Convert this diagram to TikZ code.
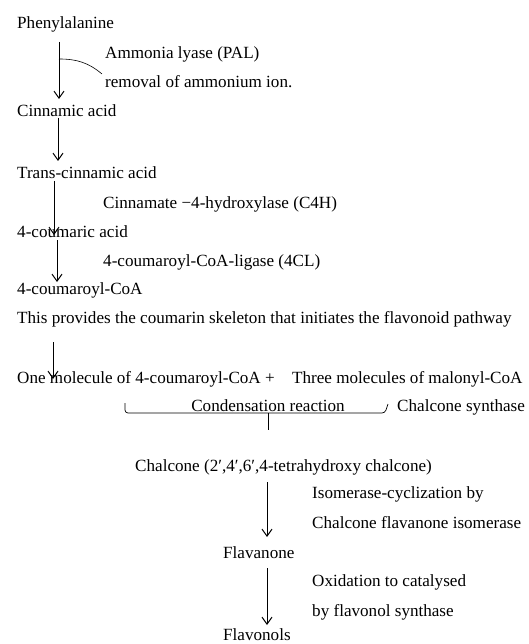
\documentclass[tikz,border=0pt]{standalone}
\usepackage{fontspec}
\setmainfont{Liberation Serif}
\usetikzlibrary{positioning,arrows.meta}

\begin{document}
\begin{tikzpicture}
[x=1pt,y=1pt,>={Straight Barb[length=7pt,width=10pt]},
lbl/.style={inner sep=0pt, text height=14.5pt, text depth=2pt, font=\fontsize{17.1}{20}\selectfont},
flow/.style={->, line width=1pt},
bracket/.style={line width=0.7pt, rounded corners=3pt}]
\useasboundingbox (0,0) rectangle (529,-644);

\node[lbl, anchor=west] (phe) at (17,-22) {Phenylalanine};
\node[lbl, below right=30pt and 88pt of phe.west, anchor=west] (pal) {Ammonia lyase (PAL)};
\node[lbl, below=29pt of pal.west, anchor=west] (rem) {removal of ammonium ion.};
\node[lbl, below=88pt of phe.west, anchor=west] (cin) {Cinnamic acid};
\node[lbl, below=62pt of cin.west, anchor=west] (trans) {Trans-cinnamic acid};
\node[lbl, below right=30pt and 86pt of trans.west, anchor=west] (c4h) {Cinnamate −4-hydroxylase (C4H)};
\node[lbl, below=59pt of trans.west, anchor=west] (coum) {4-coumaric acid};
\node[lbl, below right=29pt and 86pt of coum.west, anchor=west] (cl4) {4-coumaroyl-CoA-ligase (4CL)};
\node[lbl, below=57pt of coum.west, anchor=west] (coa) {4-coumaroyl-CoA};
\node[lbl, below=29pt of coa.west, anchor=west] (prov) {This provides the coumarin skeleton that initiates the flavonoid pathway};
\node[lbl, below=60pt of prov.west, anchor=west] (one) {One molecule of 4-coumaroyl-CoA +};
\node[lbl, right=275pt of one.west, anchor=west] (three) {Three molecules of malonyl-CoA};
\node[lbl, below right=28pt and 251pt of one.west, anchor=center] (cond) {Condensation reaction};
\node[lbl, right=129pt of cond.center, anchor=west] (chs) {Chalcone synthase};
\node[lbl, below right=88pt and 118pt of one.west, anchor=west] (chal) {Chalcone (2′,4′,6′,4-tetrahydroxy chalcone)};
\node[lbl, below right=27pt and 177pt of chal.west, anchor=west] (iso) {Isomerase-cyclization by};
\node[lbl, below=30pt of iso.west, anchor=west] (cfi) {Chalcone flavanone isomerase};
\node[lbl, below right=87pt and 88pt of chal.west, anchor=west] (flav) {Flavanone};
\node[lbl, below right=28pt and 89pt of flav.west, anchor=west] (oxi) {Oxidation to catalysed};
\node[lbl, below=30pt of oxi.west, anchor=west] (fls) {by flavonol synthase};
\node[lbl, below=82pt of flav.west, anchor=west] (flavs) {Flavonols};

\draw[flow] ([shift={(42pt,-20pt)}]phe.west) -- ([shift={(42pt,11pt)}]cin.west);
\draw[line width=0.6pt] ([shift={(42pt,-37pt)}]phe.west) to[out=0,in=140] ([shift={(-3pt,7pt)}]rem.west);
\draw[flow] ([shift={(41pt,-8pt)}]cin.west) -- ([shift={(41pt,11pt)}]trans.west);
\draw[flow] ([shift={(37pt,-9pt)}]trans.west) -- ([shift={(37pt,-4pt)}]coum.west);
\draw[flow] ([shift={(40pt,-9pt)}]coum.west) -- ([shift={(40pt,6pt)}]coa.west);
\draw[flow] ([shift={(36pt,-25pt)}]prov.west) -- ([shift={(36pt,-2pt)}]one.west);

% condensation bracket
\draw[bracket] ([shift={(-143pt,2pt)}]cond.center) -- ([shift={(-143pt,-8pt)}]cond.center)
  -- ([shift={(117pt,-8pt)}]cond.center) -- ([shift={(120pt,1pt)}]cond.center);
\draw[bracket] ([yshift=-8pt]cond.center) -- ([yshift=-25pt]cond.center);

\draw[flow] ([shift={(132pt,-17pt)}]chal.west) -- ([shift={(44pt,15pt)}]flav.west);
\draw[flow] ([shift={(44pt,-16pt)}]flav.west) -- ([shift={(44pt,9pt)}]flavs.west);
\end{tikzpicture}
\end{document}
